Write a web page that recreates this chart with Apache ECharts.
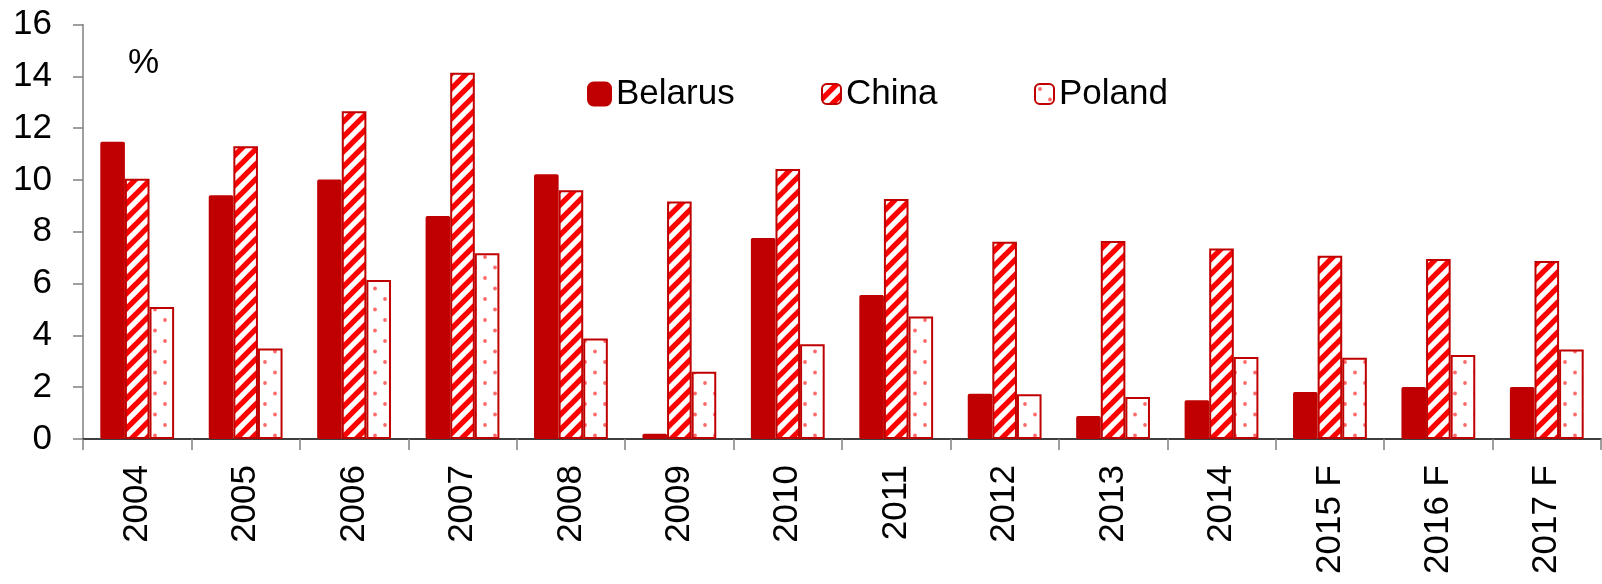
<!DOCTYPE html>
<html>
<head>
<meta charset="utf-8">
<script src="https://cdn.jsdelivr.net/npm/echarts@6/dist/echarts.min.js"></script>
<style>
html,body{margin:0;padding:0;background:#fff;}
#chart{width:1602px;height:584px;}
</style>
</head>
<body>
<div id="chart"></div>
<script>
const categories = ['2004','2005','2006','2007','2008','2009','2010','2011','2012','2013','2014','2015 F','2016 F','2017 F'];
const belarus = [11.47, 9.41, 10.02, 8.61, 10.22, 0.20, 7.76, 5.56, 1.75, 0.89, 1.50, 1.81, 2.01, 2.01];
const china   = [10.05, 11.30, 12.65, 14.14, 9.60, 9.17, 10.42, 9.26, 7.61, 7.64, 7.35, 7.07, 6.95, 6.87];
const poland  = [5.10, 3.49, 6.14, 7.17, 3.88, 2.60, 3.66, 4.73, 1.73, 1.62, 3.17, 3.14, 3.24, 3.45];
const yTicks = { min: 0, max: 16, interval: 2 };

const FONT = 'Liberation Sans, Arial, sans-serif';
const DARK = '#c00000';

// diagonal stripes pattern
function stripeCanvas() {
  const s = 15;
  const c = document.createElement('canvas');
  c.width = s; c.height = s;
  const g = c.getContext('2d');
  g.fillStyle = '#fff'; g.fillRect(0,0,s,s);
  g.strokeStyle = '#ff0000';
  g.lineWidth = 5.4;
  for (let k = -1; k <= 1; k++) {
    g.beginPath();
    g.moveTo(k*s - 2, s + 2);
    g.lineTo(k*s + s + 2, -2);
    g.stroke();
  }
  return c;
}
// dotted pattern
function dotCanvas() {
  const w = 20, h = 21;
  const c = document.createElement('canvas');
  c.width = w; c.height = h;
  const g = c.getContext('2d');
  g.fillStyle = '#fff'; g.fillRect(0,0,w,h);
  g.fillStyle = '#ff6a6a';
  [[5,5],[15,15.5]].forEach(p => {
    g.beginPath(); g.arc(p[0], p[1], 1.9, 0, Math.PI*2); g.fill();
  });
  return c;
}

const chart = echarts.init(document.getElementById('chart'), null, {renderer:'canvas'});
const stripe = { image: stripeCanvas(), repeat: 'repeat' };
const dots = { image: dotCanvas(), repeat: 'repeat' };

const legendBase = {
  orient: 'horizontal', top: 76.5, padding: 0,
  textStyle: { fontFamily: FONT, fontSize: 35, color: '#000' }
};

chart.setOption({
  animation: false,
  backgroundColor: '#fff',
  grid: { left: 83, right: 1, top: 24.5, bottom: 145, containLabel: false },
  legend: [
    Object.assign({}, legendBase, { left: 587, data: ['Belarus'], itemWidth: 23, itemHeight: 23 }),
    Object.assign({}, legendBase, { left: 821, data: ['China'], itemWidth: 19, itemHeight: 20 }),
    Object.assign({}, legendBase, { left: 1034, data: ['Poland'], itemWidth: 19, itemHeight: 20 })
  ],
  graphic: [{
    type: 'text', left: 128, top: 46,
    style: { text: '%', font: '35px ' + FONT, fill: '#000' }
  }],
  xAxis: {
    type: 'category',
    data: categories,
    boundaryGap: true,
    axisLine: { lineStyle: { color: '#000', width: 1.5 } },
    axisTick: { show: true, length: 11, lineStyle: { color: '#808080', width: 1.5 } },
    axisLabel: { rotate: 90, margin: 26, fontFamily: FONT, fontSize: 35, color: '#000', interval: 0 },
    splitLine: { show: false }
  },
  yAxis: {
    type: 'value',
    min: yTicks.min, max: yTicks.max, interval: yTicks.interval,
    axisLine: { show: true, lineStyle: { color: '#808080', width: 1.5 } },
    axisTick: { show: true, length: 10, lineStyle: { color: '#808080', width: 1.5 } },
    axisLabel: { margin: 31, fontFamily: FONT, fontSize: 35, color: '#000' },
    splitLine: { show: false }
  },
  series: [
    { name: 'Belarus', type: 'bar', data: belarus, barWidth: 24.6, barGap: '0%', z: 3,
      itemStyle: { color: DARK, borderColor: DARK, borderWidth: 3.5, borderJoin: 'round' } },
    { name: 'China', type: 'bar', data: china, barWidth: 24.6, barGap: '0%', z: 2,
      itemStyle: { color: stripe, borderColor: DARK, borderWidth: 2 } },
    { name: 'Poland', type: 'bar', data: poland, barWidth: 24.6, barGap: '0%', z: 2,
      itemStyle: { color: dots, borderColor: DARK, borderWidth: 2 } }
  ]
});
</script>
</body>
</html>
